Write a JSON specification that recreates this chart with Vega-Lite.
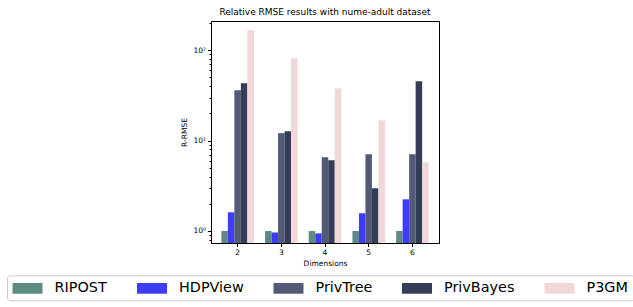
{
  "$schema": "https://vega.github.io/schema/vega-lite/v6.json",
  "width": 228,
  "height": 222,
  "autosize": {"type": "none"},
  "padding": {"left": 211, "top": 21, "right": 194, "bottom": 64},
  "config": {
    "font": "DejaVu Sans",
    "view": {"stroke": "black", "strokeWidth": 1}
  },
  "title": {"text": "Relative RMSE results with nume-adult dataset", "fontSize": 9, "fontWeight": "normal", "font": "DejaVu Sans", "color": "black", "offset": 2},
  "data": {
    "values": [
      {"dim": "2", "method": "RIPOST", "value": 1.0},
      {"dim": "2", "method": "HDPView", "value": 1.61},
      {"dim": "2", "method": "PrivTree", "value": 36.2},
      {"dim": "2", "method": "PrivBayes", "value": 43.2},
      {"dim": "2", "method": "P3GM", "value": 167},
      {"dim": "3", "method": "RIPOST", "value": 1.0},
      {"dim": "3", "method": "HDPView", "value": 0.96},
      {"dim": "3", "method": "PrivTree", "value": 12.1},
      {"dim": "3", "method": "PrivBayes", "value": 12.7},
      {"dim": "3", "method": "P3GM", "value": 81.7},
      {"dim": "4", "method": "RIPOST", "value": 1.0},
      {"dim": "4", "method": "HDPView", "value": 0.94},
      {"dim": "4", "method": "PrivTree", "value": 6.55},
      {"dim": "4", "method": "PrivBayes", "value": 6.07},
      {"dim": "4", "method": "P3GM", "value": 38},
      {"dim": "5", "method": "RIPOST", "value": 1.0},
      {"dim": "5", "method": "HDPView", "value": 1.57},
      {"dim": "5", "method": "PrivTree", "value": 7.07},
      {"dim": "5", "method": "PrivBayes", "value": 2.97},
      {"dim": "5", "method": "P3GM", "value": 16.8},
      {"dim": "6", "method": "RIPOST", "value": 1.0},
      {"dim": "6", "method": "HDPView", "value": 2.24},
      {"dim": "6", "method": "PrivTree", "value": 7.07},
      {"dim": "6", "method": "PrivBayes", "value": 45.5},
      {"dim": "6", "method": "P3GM", "value": 5.77}
    ]
  },
  "mark": {"type": "bar", "clip": true},
  "encoding": {
    "x": {
      "field": "dim", "type": "ordinal",
      "scale": {"paddingInner": 0.256, "paddingOuter": 0.237},
      "axis": {"labelAngle": 0, "title": "Dimensions", "titleFontSize": 7.5, "titleFontWeight": "normal", "titleColor": "black", "labelFontSize": 7.5, "labelColor": "black", "tickColor": "black", "domainColor": "black", "tickSize": 3.5, "labelPadding": 2, "titlePadding": 3}
    },
    "xOffset": {"field": "method", "type": "nominal", "sort": ["RIPOST", "HDPView", "PrivTree", "PrivBayes", "P3GM"]},
    "y": {
      "field": "value", "type": "quantitative",
      "scale": {"type": "log", "domain": [0.736, 211], "nice": false},
      "axis": {
        "title": "R-RMSE", "titleFontSize": 7.5, "titleFontWeight": "normal", "titleColor": "black", "titlePadding": 4,
        "grid": false,
        "values": [0.8, 0.9, 1, 2, 3, 4, 5, 6, 7, 8, 9, 10, 20, 30, 40, 50, 60, 70, 80, 90, 100, 200],
        "labelExpr": "datum.value == 1 ? '10⁰' : datum.value == 10 ? '10¹' : datum.value == 100 ? '10²' : ''",
        "labelOverlap": false,
        "labelFontSize": 7.5, "labelColor": "black", "labelPadding": 2,
        "tickColor": "black", "domainColor": "black",
        "tickSize": {"condition": {"test": "datum.value == 1 || datum.value == 10 || datum.value == 100", "value": 3.5}, "value": 2}
      }
    },
    "y2": {"datum": 0.736},
    "color": {
      "field": "method", "type": "nominal",
      "scale": {"domain": ["RIPOST", "HDPView", "PrivTree", "PrivBayes", "P3GM"], "range": ["#5e8b81", "#3d3df7", "#525a77", "#333e56", "#f1d7d8"]},
      "legend": {
        "orient": "none", "legendX": -204, "legendY": 254.3,
        "direction": "horizontal", "columns": 5, "title": null,
        "symbolType": "M-2,-0.714H2V0.714H-2Z", "symbolSize": 225, "symbolOffset": 7.5, "symbolStrokeWidth": 0, "symbolOpacity": 1,
        "labelFontSize": 14.4, "labelColor": "black", "labelOffset": 19.5, "columnPadding": 29.5,
        "padding": 5.5, "strokeColor": "#cccccc", "fillColor": "white", "cornerRadius": 3
      }
    }
  }
}
